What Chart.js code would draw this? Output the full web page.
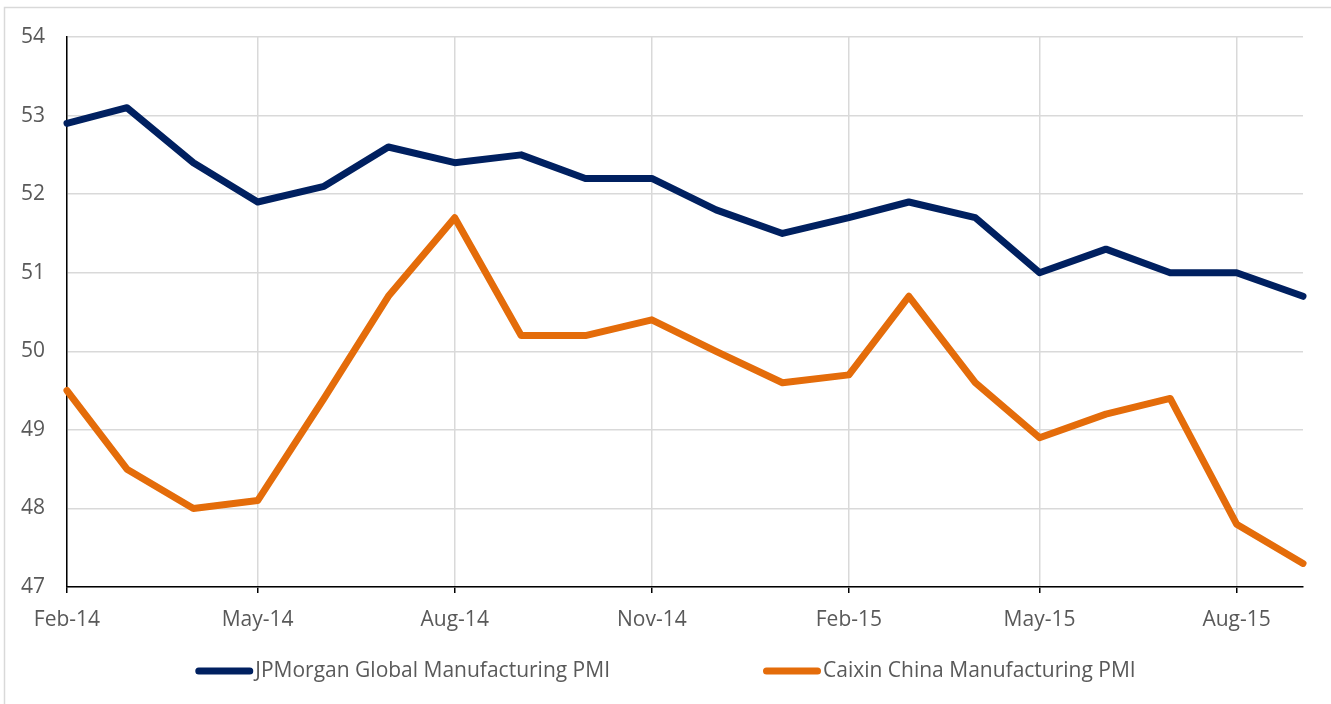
<!DOCTYPE html>
<html>
<head>
<meta charset="utf-8">
<script src="https://cdn.jsdelivr.net/npm/chart.js@4/dist/chart.umd.min.js"></script>
<style>
  html, body { margin: 0; padding: 0; background: #ffffff; }
  #wrap { position: relative; width: 1331px; height: 704px; }
</style>
</head>
<body>
<div id="wrap"><canvas id="pmi" width="1331" height="704"></canvas></div>
<script>
// Monthly readings, Feb-14 through Sep-15
const months = [
  '2014-02','2014-03','2014-04','2014-05','2014-06','2014-07','2014-08','2014-09','2014-10','2014-11',
  '2014-12','2015-01','2015-02','2015-03','2015-04','2015-05','2015-06','2015-07','2015-08','2015-09'
];
const jpmGlobal = [52.9, 53.1, 52.4, 51.9, 52.1, 52.6, 52.4, 52.5, 52.2, 52.2,
                   51.8, 51.5, 51.7, 51.9, 51.7, 51.0, 51.3, 51.0, 51.0, 50.7];
const caixinChina = [49.5, 48.5, 48.0, 48.1, 49.4, 50.7, 51.7, 50.2, 50.2, 50.4,
                     50.0, 49.6, 49.7, 50.7, 49.6, 48.9, 49.2, 49.4, 47.8, 47.3];
const seriesNames = ['JPMorgan Global Manufacturing PMI', 'Caixin China Manufacturing PMI'];
const tickMonths = ['2014-02','2014-05','2014-08','2014-11','2015-02','2015-05','2015-08'];
const yMin = 47, yMax = 54, yStep = 1;

const monthNames = ['Jan','Feb','Mar','Apr','May','Jun','Jul','Aug','Sep','Oct','Nov','Dec'];
const DAY = 86400000;
const origin = Date.UTC(2014, 1, 1);
function dayIndex(m) {
  const [y, mo] = m.split('-').map(Number);
  return (Date.UTC(y, mo - 1, 1) - origin) / DAY;
}
function monthLabel(m) {
  const [y, mo] = m.split('-').map(Number);
  return monthNames[mo - 1] + '-' + String(y).slice(2);
}
const tickLabelByDay = {};
tickMonths.forEach(m => { tickLabelByDay[dayIndex(m)] = monthLabel(m); });

const FONT = "'Open Sans', 'Liberation Sans', sans-serif";
const TEXT = '#595959';
const GRID = '#D9D9D9';

// Outer chart frame
const framePlugin = {
  id: 'frame',
  beforeDraw(chart) {
    const ctx = chart.ctx;
    ctx.save();
    ctx.strokeStyle = GRID;
    ctx.lineWidth = 1.5;
    ctx.strokeRect(4.5, 7.5, chart.width + 10, chart.height + 10);
    ctx.restore();
  }
};

// Centered legend row drawn under the axis
const legendRow = {
  id: 'legendRow',
  afterDraw(chart) {
    const ctx = chart.ctx;
    const sets = chart.data.datasets;
    const fontSize = 21;
    const lineLen = 58, lineW = 7, textGap = 2, itemGap = 153, y = 671;
    ctx.save();
    ctx.font = fontSize + 'px ' + FONT;
    ctx.textBaseline = 'middle';
    const widths = sets.map(d => ctx.measureText(d.label).width);
    const itemW = widths.map(w => lineLen + textGap + w);
    const total = itemW.reduce((a, b) => a + b, 0) + itemGap * (sets.length - 1);
    let x = (chart.width - total) / 2;
    sets.forEach((d, i) => {
      ctx.strokeStyle = d.borderColor;
      ctx.lineWidth = lineW;
      ctx.lineCap = 'round';
      ctx.beginPath();
      ctx.moveTo(x + lineW / 2, y);
      ctx.lineTo(x + lineLen - lineW / 2, y);
      ctx.stroke();
      ctx.fillStyle = TEXT;
      ctx.textAlign = 'left';
      ctx.fillText(d.label, x + lineLen + textGap, y);
      x += itemW[i] + itemGap;
    });
    ctx.restore();
  }
};

const xs = months.map(dayIndex);

new Chart(document.getElementById('pmi'), {
  type: 'line',
  data: {
    datasets: [
      {
        label: seriesNames[0],
        data: xs.map((x, i) => ({ x, y: jpmGlobal[i] })),
        borderColor: '#002060',
        backgroundColor: '#002060',
        borderWidth: 7,
        borderCapStyle: 'round',
        borderJoinStyle: 'round',
        pointRadius: 0,
        tension: 0,
        clip: false
      },
      {
        label: seriesNames[1],
        data: xs.map((x, i) => ({ x, y: caixinChina[i] })),
        borderColor: '#E46C0A',
        backgroundColor: '#E46C0A',
        borderWidth: 7,
        borderCapStyle: 'round',
        borderJoinStyle: 'round',
        pointRadius: 0,
        tension: 0,
        clip: false
      }
    ]
  },
  options: {
    responsive: false,
    animation: false,
    devicePixelRatio: 1,
    layout: { padding: { left: 0, top: 37, right: 28, bottom: 0 } },
    plugins: {
      legend: { display: false },
      tooltip: { enabled: false }
    },
    scales: {
      x: {
        type: 'linear',
        min: dayIndex(months[0]),
        max: dayIndex(months[months.length - 1]),
        afterBuildTicks(scale) {
          scale.ticks = tickMonths.map(m => ({ value: dayIndex(m) }));
        },
        afterFit(scale) { scale.height = 117; },
        ticks: {
          autoSkip: false,
          maxRotation: 0,
          padding: 14,
          color: TEXT,
          font: { family: FONT, size: 21 },
          callback: v => tickLabelByDay[v] || ''
        },
        grid: {
          color: GRID,
          lineWidth: 1.5,
          tickColor: '#000000',
          tickLength: 6
        },
        border: { color: '#000000', width: 1.5 }
      },
      y: {
        min: yMin,
        max: yMax,
        afterFit(scale) { scale.width = 67; },
        ticks: {
          stepSize: yStep,
          padding: 22,
          color: TEXT,
          font: { family: FONT, size: 21 }
        },
        grid: {
          color: GRID,
          lineWidth: 1.5,
          drawTicks: false
        },
        border: { color: '#000000', width: 1.5 }
      }
    }
  },
  plugins: [framePlugin, legendRow]
});
</script>
</body>
</html>
